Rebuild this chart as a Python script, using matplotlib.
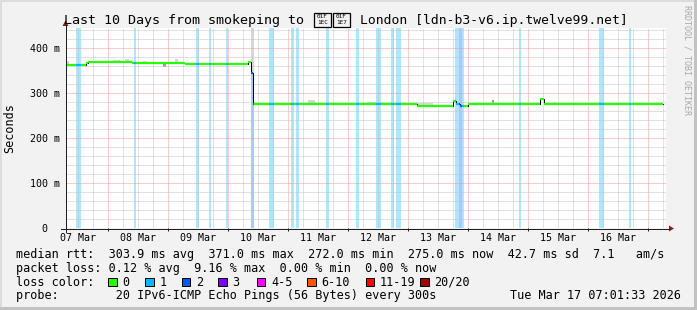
import numpy as np
import matplotlib
matplotlib.use("Agg")
from matplotlib import pyplot as plt
import matplotlib.dates as mdates
from matplotlib.patches import Rectangle, Polygon
from matplotlib.lines import Line2D
from matplotlib.ticker import MultipleLocator, FuncFormatter, NullFormatter
from datetime import datetime

W, H = 697, 310
YEAR = 2026
start = datetime(2026, 3, 7, 7, 1, 33)
end = datetime(2026, 3, 17, 7, 1, 33)

# median rtt, step values (start of each step, ms)
median_times = ["03-07 07:00", "03-07 14:50", "03-07 15:50", "03-08 09:20", "03-09 06:35",
                "03-10 07:50", "03-10 08:55", "03-10 10:00", "03-13 03:20", "03-13 17:55",
                "03-13 18:55", "03-13 20:45", "03-13 23:55", "03-15 04:35", "03-15 06:15"]
median_ms = [363.5, 366.5, 370.0, 368.0, 364.0,
             369.0, 344.0, 275.5, 272.0, 281.5,
             277.0, 272.0, 275.5, 286.5, 275.5]
data_end = "03-17 05:50"

# packet loss periods (pings lost out of 20)
loss_start = ["03-07 11:00", "03-08 10:10", "03-09 11:00", "03-09 16:10", "03-09 23:00",
              "03-10 08:55", "03-10 16:10", "03-11 01:00", "03-11 03:00", "03-11 15:00",
              "03-12 03:00", "03-12 11:00", "03-12 17:00", "03-12 19:00", "03-13 18:35",
              "03-13 20:15", "03-13 21:25", "03-14 20:10", "03-16 04:10", "03-16 16:10"]
loss_end = ["03-07 12:55", "03-08 11:00", "03-09 12:05", "03-09 17:00", "03-09 23:55",
            "03-10 10:10", "03-10 18:05", "03-11 02:10", "03-11 04:10", "03-11 16:10",
            "03-12 04:10", "03-12 12:55", "03-12 18:10", "03-12 21:00", "03-13 20:15",
            "03-13 21:25", "03-13 22:15", "03-14 21:00", "03-16 06:10", "03-16 17:00"]
loss_count = [1, 1, 1, 1, 1,
              2, 1, 1, 1, 1,
              1, 1, 1, 1, 1,
              2, 1, 1, 1, 1]

# smoke (spread of the single pings)
smoke_start = ["03-07 07:20", "03-08 01:50", "03-08 06:35", "03-08 13:50", "03-08 21:50",
               "03-09 02:35", "03-09 19:25", "03-10 01:50", "03-10 08:55", "03-11 07:50",
               "03-12 07:25", "03-13 03:25", "03-14 03:25", "03-14 09:20", "03-15 09:50",
               "03-16 07:25"]
smoke_end = ["03-07 08:20", "03-08 04:35", "03-08 08:15", "03-08 15:25", "03-08 23:00",
             "03-09 03:50", "03-09 20:35", "03-10 03:25", "03-10 10:15", "03-11 10:35",
             "03-12 13:50", "03-13 09:50", "03-14 04:15", "03-14 10:15", "03-15 11:00",
             "03-16 11:25"]
smoke_lo = [363, 370, 370, 368, 359, 368, 364, 364, 344, 276, 276, 272, 276, 276, 276, 276]
smoke_hi = [372, 374, 376, 372, 368, 376, 367, 368, 470, 284, 280, 279, 281, 285, 280, 279]
smoke_dense = [0, 0, 0, 0, 1, 0, 0, 0, 0, 0, 0, 0, 0, 1, 0, 0]

legend_labels = ["0", "1", "2", "3", "4-5", "6-10", "11-19", "20/20"]
legend_colors = ["#26ff00", "#00b8ff", "#0059ff", "#7e00ff", "#ff00ff", "#ff5500", "#ff0000", "#a10000"]
legend_low = [0, 1, 2, 3, 4, 6, 11, 20]

# title; the flag (U+1F1EC U+1F1E7) has no glyph in any installed font,
# so it is drawn as the two "missing glyph" hex boxes the reference shows
title_left = "Last 10 Days from smokeping to"
title_flag = ["\U0001F1EC", "\U0001F1E7"]
title_right = "London [ldn-b3-v6.ip.twelve99.net]"
line_rtt = "median rtt:  303.9 ms avg  371.0 ms max  272.0 ms min  275.0 ms now  42.7 ms sd  7.1   am/s"
line_loss = "packet loss: 0.12 % avg  9.16 % max  0.00 % min  0.00 % now"
line_probe = "probe:        20 IPv6-ICMP Echo Pings (56 Bytes) every 300s"
stamp = "Tue Mar 17 07:01:33 2026"

MONO = "DejaVu Sans Mono"
BG = "#f2f2f2"


def dnum(strings):
    return mdates.date2num([datetime.strptime(f"{YEAR}-{s}", "%Y-%m-%d %H:%M") for s in strings])


def loss_color(n):
    idx = 0
    for i, low in enumerate(legend_low):
        if n >= low:
            idx = i
    return legend_colors[idx]


def fx(x):
    return x / W


def fy(y):
    return 1 - y / H


def hexbox(fig, x, ch):
    """missing glyph box with the code point written inside"""
    code = f"{ord(ch):06X}"
    fig.add_artist(Rectangle((fx(x), fy(26.5)), 17 / W, 13 / H, facecolor="none",
                             edgecolor="black", lw=0.9))
    fig.text(fx(x + 8.5), fy(16.2), code[:3], family=MONO, size=4.3, ha="center", va="center")
    fig.text(fx(x + 8.5), fy(22.4), code[3:], family=MONO, size=4.3, ha="center", va="center")


fig = plt.figure(figsize=(W / 100, H / 100), dpi=100, facecolor=BG)
ax = fig.add_axes([fx(66), fy(228.3), 600 / W, 200 / H])
ax.set_facecolor("white")
for s in ax.spines.values():
    s.set_visible(False)

# loss background bands
for s, e, n in zip(dnum(loss_start), dnum(loss_end), loss_count):
    ax.axvspan(s, e, color=loss_color(n), alpha=0.33, lw=0, zorder=1)

# smoke
s_t = dnum(smoke_start)
e_t = dnum(smoke_end)
lo = np.array(smoke_lo) / 1000
hi = np.array(smoke_hi) / 1000
ax.bar(s_t, hi - lo, width=e_t - s_t, bottom=lo, align="edge",
       color=["#9c9c9c" if d else "#d6d6d6" for d in smoke_dense], lw=0, zorder=1.5)

# median line
t_med = dnum(median_times + [data_end])
v_med = np.array(median_ms + [median_ms[-1]]) / 1000
ax.step(t_med, v_med, where="post", color="black", lw=0.72, zorder=3)
ls, le = dnum(loss_start), dnum(loss_end)
edges = np.unique(np.concatenate([t_med, ls, le]))
edges = edges[(edges >= t_med[0]) & (edges <= t_med[-1])]
for a, b in zip(edges[:-1], edges[1:]):
    mid = (a + b) / 2
    i = np.searchsorted(t_med, mid, side="right") - 1
    n = 0
    for s, e, c in zip(ls, le, loss_count):
        if s <= mid < e:
            n = c
    ax.hlines(v_med[i], a, b, color=loss_color(n), lw=1.6, zorder=4)

ax.set_xlim(mdates.date2num(start), mdates.date2num(end))
ax.set_ylim(0, max(median_ms) * 1.2 / 1000)

# grid and ticks
ax.set_axisbelow(False)
ax.xaxis.set_major_locator(mdates.DayLocator())
ax.xaxis.set_major_formatter(NullFormatter())
ax.xaxis.set_minor_locator(mdates.HourLocator(byhour=[6, 12, 18]))
ax.xaxis.set_minor_formatter(FuncFormatter(
    lambda v, p: mdates.num2date(v).strftime("%d %b") if mdates.num2date(v).hour == 12 else ""))
ax.yaxis.set_major_locator(MultipleLocator(0.1))
ax.yaxis.set_minor_locator(MultipleLocator(0.02))
ax.yaxis.set_major_formatter(FuncFormatter(lambda v, p: f"{v * 1000:.0f} m" if v > 0 else "0  "))
ax.grid(which="major", color="#f09a9a", lw=0.72, ls=(0, (1, 1)))
ax.grid(which="minor", color="#c4c4c4", lw=0.72, ls=(0, (1, 1)))
ax.tick_params(axis="x", which="major", length=2, width=0.72, color="#1f1f1f")
ax.tick_params(axis="x", which="minor", length=0, pad=3.4, labelsize=7.2)
ax.tick_params(axis="y", which="both", length=0, pad=4.3, labelsize=7.2)
for lab in ax.get_xticklabels(minor=True) + ax.get_yticklabels():
    lab.set_family(MONO)

# axes with arrows
fig.add_artist(Line2D([fx(61), fx(669)], [fy(228.5)] * 2, color="#1f1f1f", lw=0.72))
fig.add_artist(Line2D([fx(65.5)] * 2, [fy(232), fy(25)], color="#1f1f1f", lw=0.72))
fig.add_artist(Polygon([[fx(669), fy(225.5)], [fx(674), fy(228.5)], [fx(669), fy(231.5)]],
                       closed=True, color="#801f1f", lw=0))
fig.add_artist(Polygon([[fx(62.5), fy(26)], [fx(65.5), fy(20.5)], [fx(68.5), fy(26)]],
                       closed=True, color="#801f1f", lw=0))

# frame shading
fig.add_artist(Rectangle((0, fy(2)), 1, 2 / H, color="#dcdcdc", lw=0))
fig.add_artist(Rectangle((0, 0), 2 / W, 1, color="#dcdcdc", lw=0))
fig.add_artist(Rectangle((0, 0), 1, 3 / H, color="#c2c2c2", lw=0))
fig.add_artist(Rectangle((1 - 3 / W, 0), 3 / W, 1, color="#c2c2c2", lw=0))

# texts
fig.text(fx(64), fy(24), title_left, family=MONO, size=9.6, ha="left", va="baseline")
hexbox(fig, 314, title_flag[0])
hexbox(fig, 333, title_flag[1])
fig.text(fx(360), fy(24), title_right, family=MONO, size=9.4, ha="left", va="baseline")
fig.text(fx(10), fy(128), "Seconds", family=MONO, size=8.5, rotation=90, ha="center", va="center")
fig.text(fx(687), fy(5), "RRDTOOL / TOBI OETIKER", family=MONO, size=6, color="#a8a8a8",
         rotation=-90, ha="center", va="top")
fig.text(fx(16), fy(258.3), line_rtt, family=MONO, size=8.5, va="baseline")
fig.text(fx(16), fy(272), line_loss, family=MONO, size=8.5, va="baseline")
fig.text(fx(16), fy(285.6), "loss color:", family=MONO, size=8.5, va="baseline")
fig.text(fx(16), fy(299.3), line_probe, family=MONO, size=8.5, va="baseline")
fig.text(fx(681), fy(299.3), stamp, family=MONO, size=8.5, va="baseline", ha="right")

box_x = [108.3, 145, 181.7, 218.3, 256.7, 307.3, 365.7, 420]
for bx, lab, col in zip(box_x, legend_labels, legend_colors):
    fig.add_artist(Rectangle((fx(bx), fy(286)), 8.5 / W, 8.5 / H, facecolor=col,
                             edgecolor="black", lw=0.72))
    fig.text(fx(bx + 14.2), fy(285.6), lab, family=MONO, size=8.5, va="baseline")

fig.savefig("out.png", dpi=100, facecolor=BG)
